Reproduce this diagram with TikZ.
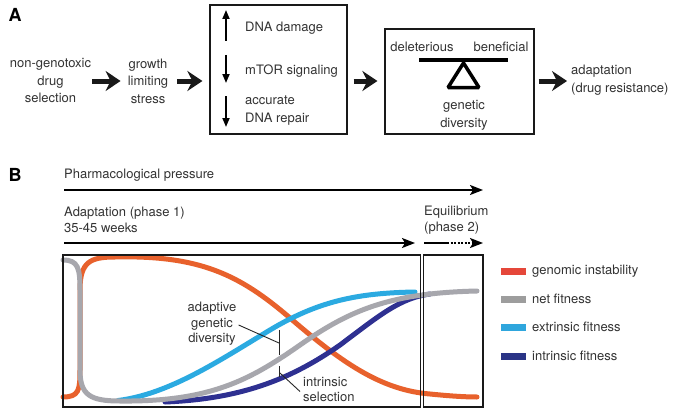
\documentclass[tikz,border=0pt]{standalone}
\usepackage{fontspec}
\setmainfont{TeX Gyre Heros}
\usetikzlibrary{arrows.meta}
\definecolor{txt}{HTML}{333333}
\definecolor{cred}{HTML}{E8612C}
\definecolor{cgray}{HTML}{A7A7AD}
\definecolor{clb}{HTML}{2BAAE1}
\definecolor{cdb}{HTML}{2E3091}
\definecolor{lred}{HTML}{E5473A}
\definecolor{lgray}{HTML}{9D9D9D}
\definecolor{llb}{HTML}{2FA6DD}
\definecolor{ldb}{HTML}{2A3486}
\begin{document}
\begin{tikzpicture}[x=1pt,y=-1pt,
  lbl/.style={font=\fontsize{13}{17.5}\selectfont, text=txt, inner sep=0pt, align=center},
  lblB/.style={font=\fontsize{13}{15.5}\selectfont, text=txt, inner sep=0pt},
  panel/.style={font=\fontsize{18}{18}\selectfont\bfseries, text=black, inner sep=0pt},
  fat/.style={line width=5pt, draw=black!90, -{Stealth[length=15pt,width=20pt,inset=5pt]}},
  smallarr/.style={line width=1.8pt, -{Triangle[length=9pt,width=7pt]}},
  frame/.style={draw=black!90, line width=1.2pt, inner sep=0pt},
  timeline/.style={line width=2pt, -{Stealth[length=13pt,width=10pt,inset=3pt]}},
  curve/.style={line width=5pt, line cap=round},
  swatch/.style={line width=7pt},
  leader/.style={line width=0.9pt, draw=black!85}
]
\useasboundingbox[fill=white] (0,0) rectangle (677,412);

% ---------------- Panel A ----------------
\node[panel] (A) at (15,15) {A};
\node[lbl] (t1) at (50.5,81) {non-genotoxic\\drug\\selection};
\node[lbl] (t2) at (148,81) {growth\\limiting\\stress};
\node[frame, minimum width=137pt, minimum height=129pt] (box1) at (278.5,69.5) {};
\node[frame, minimum width=149pt, minimum height=105pt] (box2) at (459.5,81.5) {};
\node[lbl, align=left, anchor=west] (t5) at (571,80) {adaptation\\(drug resistance)};

\draw[fat, shorten <=1pt, shorten >=7pt] (t1.east) -- (t1.east -| t2.west);
\draw[fat, shorten <=9pt, shorten >=7pt] (t2.east) -- (t2.east -| box1.west);
\draw[fat, shorten <=6pt, shorten >=7pt] (box1.east |- t2.east) -- (box2.west |- t2.east);
\draw[fat, shorten <=4pt, shorten >=4pt] (box2.east |- t2.east) -- (t5.west |- t2.east);

% inside box 1
\node[lbl, anchor=west] (dd) at (245,28) {DNA damage};
\node[lbl, anchor=west] (mt) at (245,71) {mTOR signaling};
\node[lbl, anchor=west, align=left] (ar) at (245,110.5) {accurate\\DNA repair};
\draw[smallarr] (226,41) -- (226,10);
\draw[smallarr] (226,55) -- (226,83);
\draw[smallarr] (226,96) -- (226,127);

% inside box 2
\node[lbl] (del) at (422,47) {deleterious};
\node[lbl] (ben) at (501,47) {beneficial};
\draw[line width=4pt] (419,60) -- (508,60);
\draw[line width=3.5pt, line join=bevel] (463.5,63) -- (479,87.5) -- (448,87.5) -- cycle;
\node[lbl] (gd) at (464,115.5) {genetic\\diversity};

% ---------------- Panel B ----------------
\node[panel] (B) at (15,175) {B};
\node[lblB, anchor=west] (pp) at (64,175) {Pharmacological pressure};
\coordinate (ppS) at (64,190);
\coordinate (ppE) at (483,190);
\draw[timeline] (ppS) -- (ppE);

\node[lblB, anchor=west, align=left] (ad) at (64,220) {Adaptation (phase 1)\\35-45 weeks};
\node[lblB, anchor=west, align=left] (eq) at (424,220) {Equilibrium\\(phase 2)};
\coordinate (adS) at (64,243);
\coordinate (adE) at (415,243);
\draw[timeline] (adS) -- (adE);
\coordinate (eqS) at (424,243);
\coordinate (eqM) at (447,243);
\coordinate (eqE) at (483,243);
\draw[line width=2pt] (eqS) -- (eqM);
\draw[timeline, dash pattern=on 2pt off 1.5pt] (eqM) -- (eqE);

% curves
\draw[curve, cred] (63,397) .. controls (79,397) and (80,390) .. (80,370)
  -- (80,290) .. controls (80,262) and (90,257) .. (115,257)
  .. controls (200,255) and (240,275) .. (290,318)
  .. controls (340,361) and (380,390) .. (430,394)
  .. controls (450,396) and (465,397) .. (477,397);
\draw[curve, clb] (118,400.5) .. controls (170,394) and (220,360) .. (270,330)
  .. controls (320,300) and (360,293) .. (415,292);
\draw[curve, cdb] (165,402) .. controls (240,399) and (290,380) .. (340,345)
  .. controls (380,315) and (400,298) .. (430,294);
\draw[curve, cgray] (63,260) .. controls (78,260) and (80,268) .. (80,290)
  -- (80,370) .. controls (80,395) and (90,401) .. (120,401)
  .. controls (210,402) and (250,380) .. (300,345)
  .. controls (350,310) and (390,293) .. (477,291);

% plot frames
\node[frame, minimum width=357.5pt, minimum height=152pt] (p1) at (241.75,331) {};
\node[frame, minimum width=59.5pt, minimum height=152pt] (p2) at (453.25,331) {};

% annotations
\node[lblB, align=center] (agd) at (212,324) {adaptive\\genetic\\diversity};
\node[lblB, anchor=west, align=left] (isel) at (303,389.5) {intrinsic\\selection};
\coordinate (bar1t) at (279,330);
\coordinate (bar1b) at (279,355);
\coordinate (bar1m) at (279,343);
\coordinate (bar2t) at (279,366);
\coordinate (bar2b) at (279,377);
\coordinate (bar2m) at (280,373);
\draw[leader] (bar1t) -- (bar1b);
\draw[leader] (bar2t) -- (bar2b);
\draw[leader] ([xshift=2pt]agd.east |- 0,325) -- (bar1m);
\draw[leader] (bar2m) -- ([xshift=-3pt,yshift=-2pt]isel.west);

% legend
\draw[swatch, lred] (501,271) -- (526,271);
\draw[swatch, lgray] (501,299) -- (526,299);
\draw[swatch, llb] (501,327) -- (526,327);
\draw[swatch, ldb] (501,356) -- (526,356);
\node[lblB, anchor=west] (lg1) at (532,271) {genomic instability};
\node[lblB, anchor=west] (lg2) at (532,299) {net fitness};
\node[lblB, anchor=west] (lg3) at (532,327) {extrinsic fitness};
\node[lblB, anchor=west] (lg4) at (532,356) {intrinsic fitness};
\end{tikzpicture}
\end{document}
